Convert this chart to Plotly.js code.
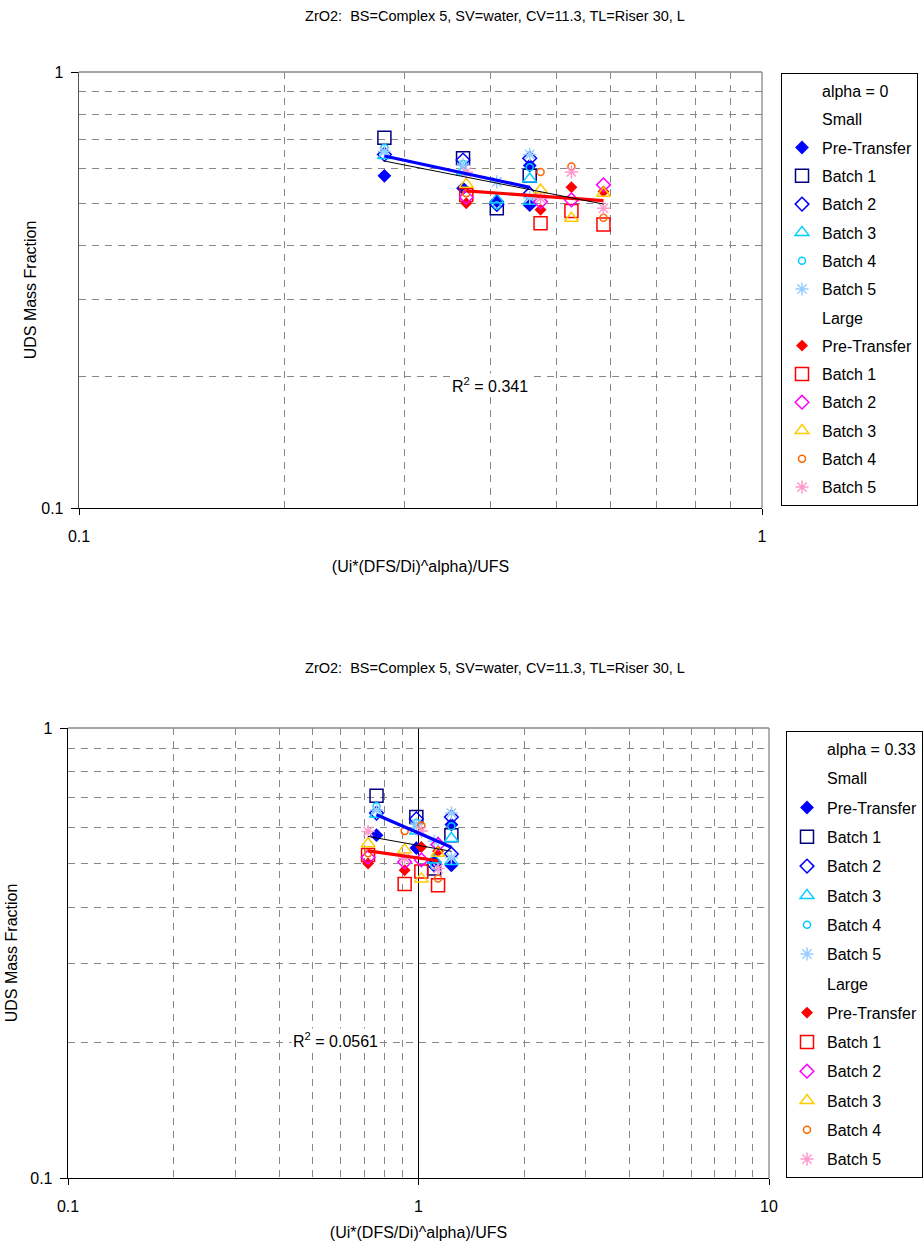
<!DOCTYPE html>
<html><head><meta charset="utf-8">
<script src="https://cdn.plot.ly/plotly-3.0.1.min.js"></script>
<style>
body{margin:0;background:#fff;}
#c1{position:absolute;left:0;top:0;width:924px;height:625px;}
#c2{position:absolute;left:0;top:625px;width:924px;height:626px;}
</style>
</head><body>
<div id="c1"></div><div id="c2"></div>
<script>
// ---- data ----
const chartTitle = 'ZrO2:  BS=Complex 5, SV=water, CV=11.3, TL=Riser 30, L';
const xTitle = '(Ui*(DFS/Di)^alpha)/UFS';
const yTitle = 'UDS Mass Fraction';
const seriesNames = ['Pre-Transfer', 'Batch 1', 'Batch 2', 'Batch 3', 'Batch 4', 'Batch 5'];

// x positions (alpha = 0 chart and alpha = 0.33 chart)
const smallX_a0  = [0.28, 0.365, 0.409, 0.457, 0.457];
const largeX_a0  = [0.369, 0.474, 0.526, 0.586];
const smallX_a33 = [0.759, 0.986, 1.108, 1.241, 1.241];
const largeX_a33 = [0.718, 0.913, 1.019, 1.137];

// UDS mass fraction, small particles
const smallPre = [0.578, 0.541, 0.506, 0.61, 0.495];
const smallB1  = [0.707, 0.634, 0.487, 0.578, null];
const smallB2  = [0.647, 0.628, 0.497, 0.634, 0.525];
const smallB3  = [0.643, 0.59, 0.509, 0.568, 0.505];
const smallB4  = [0.67, 0.615, 0.495, 0.605, null];
const smallB5  = [0.657, 0.612, 0.56, 0.647, 0.515];

// UDS mass fraction, large particles
const largePre = [0.50, 0.483, 0.544, 0.532];
const largeB1  = [0.522, 0.45, 0.48, 0.447];
const largeB2  = [0.516, 0.504, 0.509, 0.551];
const largeB3  = [0.553, 0.536, 0.462, 0.527];
const largeB4  = [0.527, 0.59, 0.607, 0.463];
const largeB5  = [0.589, 0.513, 0.59, 0.487];

const r2Top = 'R<sup>2</sup> = 0.341';
const r2Bottom = 'R<sup>2</sup> = 0.0561';
const minorTicks = [0.2,0.3,0.4,0.5,0.6,0.7,0.8,0.9];
const minorTicksX2 = [0.2,0.3,0.4,0.5,0.6,0.7,0.8,0.9,2,3,4,5,6,7,8,9];

// ---- styles ----
const smallStyles = [
  {symbol:'diamond', color:'#0000FF', size:9},
  {symbol:'square-open', color:'#000080', size:13},
  {symbol:'diamond-open', color:'#0000FF', size:10.5},
  {symbol:'triangle-up-open', color:'#00CCFF', size:12},
  {symbol:'circle-open', color:'#00CCFF', size:7},
  {symbol:'asterisk-open', color:'#99CCFF', size:11}
];
const largeStyles = [
  {symbol:'diamond', color:'#FF0000', size:7.5},
  {symbol:'square-open', color:'#FF0000', size:13},
  {symbol:'diamond-open', color:'#FF00FF', size:10.5},
  {symbol:'triangle-up-open', color:'#FFCC00', size:12},
  {symbol:'circle-open', color:'#FF6600', size:7},
  {symbol:'asterisk-open', color:'#FF99CC', size:11}
];
const FONT = 'Liberation Sans, Arial, sans-serif';

function powerFit(xs, ys) {
  const lx = [], ly = [];
  xs.forEach((x, i) => { if (x != null && ys[i] != null) { lx.push(Math.log10(x)); ly.push(Math.log10(ys[i])); } });
  const n = lx.length;
  const mx = lx.reduce((a,b)=>a+b,0)/n, my = ly.reduce((a,b)=>a+b,0)/n;
  let sxy = 0, sxx = 0;
  for (let i=0;i<n;i++){ sxy += (lx[i]-mx)*(ly[i]-my); sxx += (lx[i]-mx)*(lx[i]-mx); }
  const b = sxy/sxx, a = my - b*mx;
  const x0 = Math.pow(10, Math.min(...lx)), x1 = Math.pow(10, Math.max(...lx));
  return {x:[x0, x1], y:[Math.pow(10, a + b*Math.log10(x0)), Math.pow(10, a + b*Math.log10(x1))]};
}

function header(name, g) {
  return {x:[null], y:[null], mode:'markers', name:name, legendgroup:g,
          marker:{opacity:0, color:'rgba(0,0,0,0)', size:8}, hoverinfo:'skip', showlegend:true};
}

function buildTraces(xS, xL, alphaLabel) {
  const smallYs = [smallPre, smallB1, smallB2, smallB3, smallB4, smallB5];
  const largeYs = [largePre, largeB1, largeB2, largeB3, largeB4, largeB5];
  const traces = [];
  let g = 0;
  traces.push(header(alphaLabel, 'g'+(g++)));
  traces.push(header('Small', 'g'+(g++)));
  smallYs.forEach((ys, i) => {
    const st = smallStyles[i];
    traces.push({x:xS, y:ys, mode:'markers', name:seriesNames[i], legendgroup:'g'+(g++),
      marker:{symbol:st.symbol, size:st.size, color:st.color, line:{color:st.color, width:1.5}}});
  });
  traces.push(header('Large', 'g'+(g++)));
  largeYs.forEach((ys, i) => {
    const st = largeStyles[i];
    traces.push({x:xL, y:ys, mode:'markers', name:seriesNames[i], legendgroup:'g'+(g++),
      marker:{symbol:st.symbol, size:st.size, color:st.color, line:{color:st.color, width:1.5}}});
  });
  // trend lines (power fits)
  let sx = [], sy = [], lx = [], ly = [];
  smallYs.forEach(ys => { sx = sx.concat(xS); sy = sy.concat(ys); });
  largeYs.forEach(ys => { lx = lx.concat(xL); ly = ly.concat(ys); });
  const fs = powerFit(sx, sy), fl = powerFit(lx, ly), fa = powerFit(sx.concat(lx), sy.concat(ly));
  traces.push({x:fs.x, y:fs.y, mode:'lines', line:{color:'#0000FF', width:3.2}, showlegend:false, hoverinfo:'skip'});
  traces.push({x:fl.x, y:fl.y, mode:'lines', line:{color:'#FF0000', width:3.2}, showlegend:false, hoverinfo:'skip'});
  traces.push({x:fa.x, y:fa.y, mode:'lines', line:{color:'#000000', width:1}, showlegend:false, hoverinfo:'skip'});
  return traces;
}

function baseLayout(o) {
  const grid = {showgrid:true, gridcolor:'#888888', griddash:'7px,6px', gridwidth:1, ticks:''};
  return {
    width:924, height:o.height,
    margin:o.margin,
    paper_bgcolor:'#fff', plot_bgcolor:'#fff',
    font:{family:FONT, size:16, color:'#000'},
    showlegend:true,
    title:{text:chartTitle, font:{family:FONT, size:14.5, color:'#000'}, xref:'container', yref:'container',
           x:495/924, xanchor:'center', y:o.titleY, yanchor:'middle'},
    xaxis:{type:'log', range:o.xRange, tickvals:o.xTicks, ticktext:o.xTickText, ticks:'outside', ticklen:6,
           tickcolor:'#000', showline:true, linecolor:'#000', linewidth:1, showgrid:false, zeroline:false,
           tickfont:{size:16}, ticklabelstandoff:8,
           minor:Object.assign({tickvals:o.xMinor}, grid),
           title:{text:xTitle, font:{size:16}, standoff:o.xStandoff}},
    yaxis:{type:'log', range:[-1,0], tickvals:[0.1,1], ticktext:['0.1','1'], ticks:'outside', ticklen:7,
           tickcolor:'#000', showline:true, linecolor:o.yLineColor, linewidth:1.3, showgrid:false, zeroline:false,
           tickfont:{size:16}, ticklabelstandoff:4,
           minor:Object.assign({tickvals:minorTicks}, grid),
           title:{text:yTitle, font:{size:16}, standoff:o.yStandoff}},
    legend:{xref:'container', yref:'container', x:o.legendX, y:o.legendY, xanchor:'left', yanchor:'top',
            bordercolor:'#000', borderwidth:1, bgcolor:'#fff', font:{family:FONT, size:16, color:'#000'},
            traceorder:'grouped', tracegroupgap:o.legendGap, maxheight:600},
    shapes:[
      {type:'line', xref:'paper', yref:'paper', x0:0, x1:1, y0:1, y1:1, line:{color:'#888888', width:1.3}},
      {type:'line', xref:'paper', yref:'paper', x0:1, x1:1, y0:0, y1:1, line:{color:'#888888', width:1.3}}
    ].concat(o.extraShapes || []),
    annotations:[{xref:'paper', yref:'paper', x:o.r2Pos[0], y:o.r2Pos[1], text:o.r2Text, showarrow:false,
                  font:{family:FONT, size:16, color:'#000'}, bgcolor:'#fff', xanchor:'center', yanchor:'middle'}]
  };
}

const layout1 = baseLayout({
  height:625, margin:{l:79, r:162, t:72, b:117, autoexpand:false}, titleY:1-16/625,
  xRange:[-1,0], xTicks:[0.1,1], xTickText:['0.1','1'], xMinor:minorTicks, xStandoff:16, yStandoff:0,
  yLineColor:'#555555', legendX:781/924, legendY:1-73/625, legendGap:4.5, r2Text:r2Top, r2Pos:[0.602, 0.282]
});
const layout2 = baseLayout({
  height:626, margin:{l:68, r:155, t:103, b:73, autoexpand:false}, titleY:1-43/626,
  xRange:[-1,1], xTicks:[0.1,1,10], xTickText:['0.1','1','10'], xMinor:minorTicksX2, xStandoff:12, yStandoff:8,
  yLineColor:'#000', legendX:786/924, legendY:1-106/626, legendGap:5.5, r2Text:r2Bottom, r2Pos:[0.382, 0.307],
  extraShapes:[{type:'line', xref:'x', yref:'paper', x0:1, x1:1, y0:0, y1:1, layer:'below', line:{color:'#000', width:1}}]
});

Plotly.newPlot('c1', buildTraces(smallX_a0, largeX_a0, 'alpha = 0'), layout1, {staticPlot:true});
Plotly.newPlot('c2', buildTraces(smallX_a33, largeX_a33, 'alpha = 0.33'), layout2, {staticPlot:true});
</script>
</body></html>
